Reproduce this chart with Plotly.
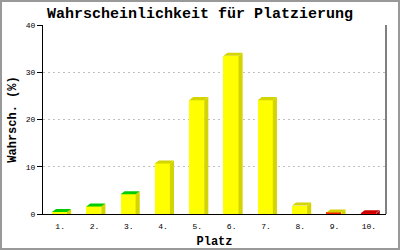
import plotly.graph_objects as go

places = [1, 2, 3, 4, 5, 6, 7, 8, 9, 10]
tick_labels = ["1.", "2.", "3.", "4.", "5.", "6.", "7.", "8.", "9.", "10."]
probs = [0.4, 1.6, 4.2, 10.7, 24.1, 33.5, 24.1, 1.8, 0.3, 0.15]
front_colors = ["#ffff00"] * 8 + ["#ff2000", "#ff0000"]
top_colors = ["#00cc00"] * 3 + ["#d4d400"] * 6 + ["#cc0000"]
side_colors = ["#d4d400"] * 9 + ["#aa0000"]

W, H = 400, 250
L, R, T, B = 43, 14, 25, 36
pw = W - L - R
ph = H - T - B

FL, FR = -0.24, 0.20   # front face extent relative to category
DX = 0.12              # depth (x, data units)
DY = 0.64              # depth (y, data units)

fig = go.Figure()
fig.add_trace(go.Bar(
    x=places, y=probs, base=0, offset=FL, width=FR - FL,
    marker=dict(color=front_colors, line=dict(width=0)),
    hoverinfo="skip", showlegend=False))

def add_polys(polys, color):
    xs, ys = [], []
    for px, py in polys:
        xs += px + [None]
        ys += py + [None]
    fig.add_trace(go.Scatter(x=xs, y=ys, mode="lines", fill="toself",
                             fillcolor=color, line=dict(width=0, color=color),
                             hoverinfo="skip", showlegend=False))

groups = {}
for p, v, tc, sc in zip(places, probs, top_colors, side_colors):
    side = ([p + FR, p + FR + DX, p + FR + DX, p + FR, p + FR],
            [0, 0, v + DY, v, 0])
    top = ([p + FL, p + FR, p + FR + DX, p + FL + DX, p + FL],
           [v, v, v + DY, v + DY, v])
    groups.setdefault(sc, []).append(side)
    groups.setdefault("top" + tc, []).append(top)

for key, polys in groups.items():
    color = key[3:] if key.startswith("top") else key
    add_polys(polys, color)

mono = "Liberation Mono, Courier New, monospace"
fig.update_layout(
    width=W, height=H,
    margin=dict(l=L, r=R, t=T, b=B),
    paper_bgcolor="white", plot_bgcolor="white",
    title=dict(text="<b>Wahrscheinlichkeit für Platzierung</b>", x=0.5, xanchor="center",
               y=1 - 13 / H, yanchor="middle", font=dict(family=mono, size=15, color="black")),
    xaxis=dict(range=[0.5, 10.5], tickvals=places, ticktext=tick_labels,
               showgrid=False, zeroline=False, showline=True, linecolor="black", linewidth=1,
               mirror=False, ticks="", ticklabelstandoff=4, automargin=False,
               tickfont=dict(family=mono, size=8, color="black"),
               title=dict(text="<b>Platz</b>", font=dict(family=mono, size=12, color="black"), standoff=7),
               fixedrange=True),
    yaxis=dict(range=[0, 40], tickvals=[0, 10, 20, 30, 40],
               showgrid=True, gridcolor="#c0c0c0", griddash="2px,3px", gridwidth=1,
               zeroline=False, showline=True, linecolor="black", linewidth=1,
               ticks="outside", ticklen=5, tickcolor="black", automargin=False,
               tickfont=dict(family=mono, size=8, color="black"),
               title=dict(text="<b>Wahrsch. (%)</b>", font=dict(family=mono, size=12, color="black"), standoff=6),
               fixedrange=True),
    bargap=0,
)
# right border line of plot area
fig.add_shape(type="line", xref="paper", yref="paper", x0=1, x1=1, y0=0, y1=1,
              line=dict(color="black", width=1))
# outer gray frame
fig.add_shape(type="rect", xref="paper", yref="paper",
              x0=-L / pw + 1 / pw, x1=1 + R / pw - 1 / pw,
              y0=-B / ph + 1 / ph, y1=1 + T / ph - 1 / ph,
              line=dict(color="#999999", width=2), layer="below")

fig.write_html("out.html", config={"displayModeBar": False})
